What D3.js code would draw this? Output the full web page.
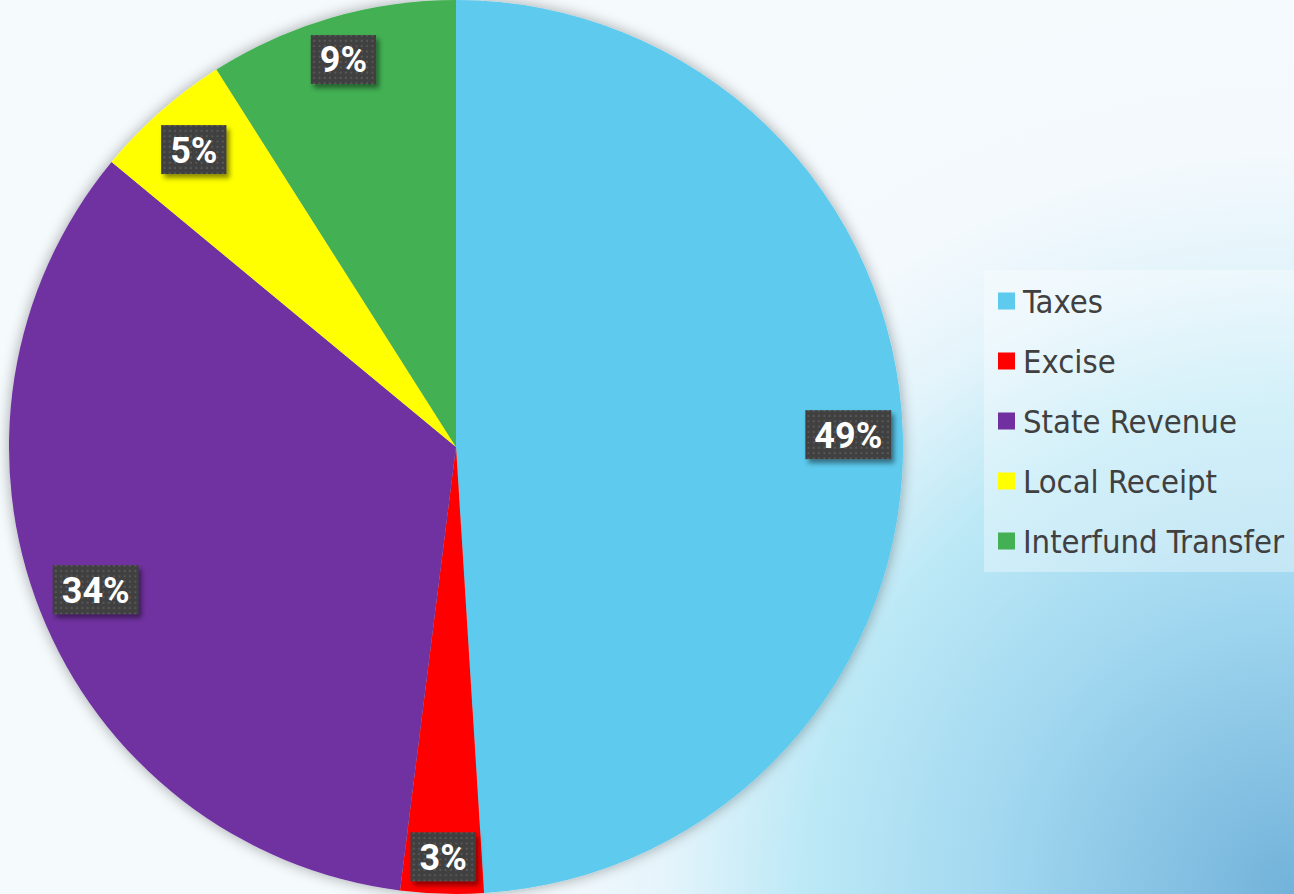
<!DOCTYPE html>
<html>
<head>
<meta charset="utf-8">
<script src="https://cdn.jsdelivr.net/npm/d3@7"></script>
<style>
  html, body { margin: 0; padding: 0; background: #f5fafd; }
  svg { display: block; }
</style>
</head>
<body>
<div id="chart"></div>
<script>
const categories = ["Taxes", "Excise", "State Revenue", "Local Receipt", "Interfund Transfer"];
const shares = [49, 3, 34, 5, 9];
const labels = ["49%", "3%", "34%", "5%", "9%"];
const colors = ["#5dcaee", "#ff0000", "#7030a0", "#ffff00", "#43b053"];

const width = 1294;
const height = 894;
const cx = 456, cy = 447;
const radius = 447;

const svg = d3.select("#chart")
    .append("svg")
    .attr("width", width)
    .attr("height", height);

const defs = svg.append("defs");

// background wash, blue toward the lower right
const bg = defs.append("radialGradient")
    .attr("id", "bgGrad")
    .attr("gradientUnits", "userSpaceOnUse")
    .attr("cx", width).attr("cy", height).attr("r", 950);
bg.append("stop").attr("offset", "0%").attr("stop-color", "#72b2da");
bg.append("stop").attr("offset", "32%").attr("stop-color", "#a2d8f0");
bg.append("stop").attr("offset", "52%").attr("stop-color", "#bde9f6");
bg.append("stop").attr("offset", "66%").attr("stop-color", "#e4f4fb");
bg.append("stop").attr("offset", "78%").attr("stop-color", "#f3f9fd");
bg.append("stop").attr("offset", "100%").attr("stop-color", "#f5fafd");

svg.append("rect")
    .attr("width", width).attr("height", height)
    .attr("fill", "url(#bgGrad)");

const pieShadow = defs.append("filter")
    .attr("id", "pieShadow")
    .attr("x", "-10%").attr("y", "-10%").attr("width", "120%").attr("height", "120%");
pieShadow.append("feDropShadow")
    .attr("dx", 0).attr("dy", 0)
    .attr("stdDeviation", 7)
    .attr("flood-color", "#000")
    .attr("flood-opacity", 0.35);

const boxShadow = defs.append("filter")
    .attr("id", "boxShadow")
    .attr("x", "-20%").attr("y", "-20%").attr("width", "150%").attr("height", "160%");
boxShadow.append("feDropShadow")
    .attr("dx", 3).attr("dy", 4)
    .attr("stdDeviation", 2.5)
    .attr("flood-color", "#000")
    .attr("flood-opacity", 0.45);

const dots = defs.append("pattern")
    .attr("id", "dots")
    .attr("patternUnits", "userSpaceOnUse")
    .attr("width", 5.3).attr("height", 5.3);
dots.append("rect").attr("width", 5.3).attr("height", 5.3).attr("fill", "#3f3f3f");
dots.append("rect").attr("x", 1.5).attr("y", 1.5).attr("width", 2).attr("height", 2).attr("fill", "#595959");

const pie = d3.pie()
    .value(d => d.value)
    .sort(null);

const data = categories.map((c, i) => ({ name: c, value: shares[i], label: labels[i], color: colors[i] }));
const arcs = pie(data);

const arc = d3.arc().innerRadius(0).outerRadius(radius);

const g = svg.append("g")
    .attr("transform", `translate(${cx},${cy})`);

g.append("g")
    .attr("filter", "url(#pieShadow)")
    .selectAll("path")
    .data(arcs)
    .enter()
    .append("path")
    .attr("d", arc)
    .attr("fill", d => d.data.color);

// data labels, inside end
const labelFont = "700 36px Roboto, 'DejaVu Sans', sans-serif";
const padX = 9, boxH = 49, margin = 10;

const labelG = g.selectAll(".lbl")
    .data(arcs)
    .enter()
    .append("g")
    .attr("class", "lbl");

labelG.each(function(d) {
    const sel = d3.select(this);
    const txt = sel.append("text")
        .style("font", labelFont)
        .attr("fill", "#fff")
        .attr("text-anchor", "middle")
        .attr("dy", "0.36em")
        .text(d.data.label);
    const w = txt.node().getComputedTextLength() + padX * 2;
    const a = (d.startAngle + d.endAngle) / 2;
    const ux = Math.sin(a), uy = -Math.cos(a);
    // push the box out until its far corner sits just inside the rim
    let r = 0;
    for (let t = 0; t < radius; t += 0.5) {
        const x = ux * t, y = uy * t;
        const fx = x + Math.sign(ux || 1) * w / 2;
        const fy = y + Math.sign(uy || 1) * boxH / 2;
        if (Math.hypot(fx, fy) > radius - margin) break;
        r = t;
    }
    const x = ux * r, y = uy * r;
    sel.attr("transform", `translate(${x},${y})`);
    sel.insert("rect", "text")
        .attr("x", -w / 2).attr("y", -boxH / 2)
        .attr("width", w).attr("height", boxH)
        .attr("fill", "url(#dots)")
        .attr("filter", "url(#boxShadow)");
});

// legend
const legend = svg.append("g")
    .attr("transform", "translate(984,270)");

legend.append("rect")
    .attr("width", width - 984).attr("height", 302)
    .attr("fill", "#ffffff")
    .attr("fill-opacity", 0.35);

const item = legend.selectAll(".item")
    .data(data)
    .enter()
    .append("g")
    .attr("class", "item")
    .attr("transform", (d, i) => `translate(0,${31 + i * 60})`);

item.append("rect")
    .attr("x", 14).attr("y", -8.5)
    .attr("width", 17).attr("height", 17)
    .attr("fill", d => d.color);

item.append("text")
    .attr("x", 39)
    .attr("dy", "0.36em")
    .style("font", "400 32.5px 'DejaVu Sans Condensed', Roboto, sans-serif")
    .attr("fill", "#404040")
    .text(d => d.name);
</script>
</body>
</html>
